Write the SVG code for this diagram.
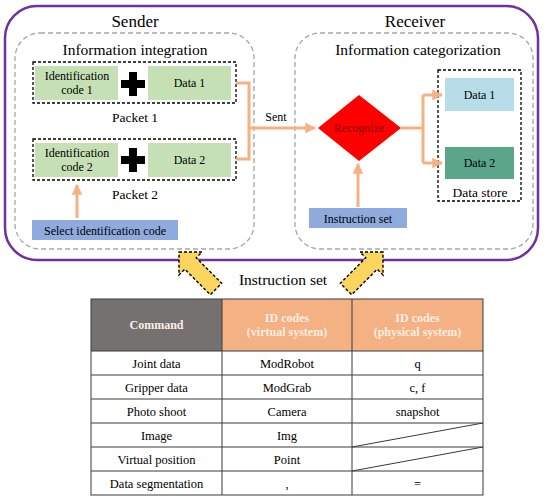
<svg xmlns="http://www.w3.org/2000/svg" width="550" height="502" viewBox="0 0 550 502" font-family="'Liberation Serif', 'Times New Roman', serif">
<defs>
<marker id="ah" viewBox="0 0 10 10" refX="9" refY="5" markerWidth="3.6" markerHeight="3.6" orient="auto" markerUnits="strokeWidth">
<path d="M0,0 L10,5 L0,10 z" fill="#f4b183"/>
</marker>
<style>
text{fill:#000;text-anchor:middle}
.t12{font-size:12px}
.t13{font-size:12.5px}
.green{fill:#c5e0b4}
.blue{fill:#8faadc}
.dashbk{fill:none;stroke:#000;stroke-width:1.3;stroke-dasharray:3,2}
.dashgr{fill:none;stroke:#a6a6a6;stroke-width:1.3;stroke-dasharray:5,3}
.conn{fill:none;stroke:#f4b183;stroke-width:3}
.yarrow{fill:#fbd55e;stroke:#000;stroke-width:1.4;stroke-dasharray:3,2}
.hdr{font-size:12px;font-weight:bold;fill:#fdeee3}
.grid{stroke:#3a3a3a;stroke-width:1;fill:none}
</style>
</defs>
<rect width="550" height="502" fill="#fff"/>

<g id="frame">
<rect x="5" y="6" width="533" height="254" rx="32" ry="32" fill="none" stroke="#7030a0" stroke-width="2.5"/>
<text x="135" y="27" font-size="17">Sender</text>
<text x="415" y="27" font-size="17">Receiver</text>
</g>

<g id="sender-panel">
<rect x="15" y="33" width="239" height="216" rx="25" class="dashgr"/>
<text x="135" y="55" font-size="15.5">Information integration</text>
</g>

<g id="receiver-panel">
<rect x="295" y="33" width="238" height="216" rx="25" class="dashgr"/>
<text x="418" y="55" font-size="15.5">Information categorization</text>
</g>

<g id="packet1">
<rect x="33" y="62" width="203" height="41" class="dashbk"/>
<rect x="35" y="66" width="83" height="34" class="green"/>
<text x="77" y="80" class="t12">Identification</text>
<text x="77" y="94" class="t12">code 1</text>
<path d="M129,72 h8 v8 h8 v8 h-8 v8 h-8 v-8 h-8 v-8 h8 z" fill="#000"/>
<rect x="148" y="66" width="83" height="34" class="green"/>
<text x="189.5" y="87" class="t12">Data 1</text>
<text x="135" y="122" font-size="13.5">Packet 1</text>
</g>

<g id="packet2">
<rect x="33" y="139" width="203" height="41" class="dashbk"/>
<rect x="35" y="143" width="83" height="34" class="green"/>
<text x="77" y="157" class="t12">Identification</text>
<text x="77" y="171" class="t12">code 2</text>
<path d="M129,148 h8 v8 h8 v8 h-8 v8 h-8 v-8 h-8 v-8 h8 z" fill="#000"/>
<rect x="148" y="143" width="83" height="34" class="green"/>
<text x="189.5" y="164" class="t12">Data 2</text>
<text x="135" y="199" font-size="13.5">Packet 2</text>
</g>

<g id="select-code">
<rect x="32" y="220" width="146" height="20" class="blue"/>
<text x="105" y="234.5" class="t12">Select identification code</text>
</g>

<g id="recognize">
<polygon points="318,128 359,95 401,128 359,161" fill="#ff0000"/>
<text x="359" y="132" class="t12" style="fill:#8c0000">Recognize</text>
</g>

<g id="instruction-box">
<rect x="309" y="208" width="98" height="20" class="blue"/>
<text x="358" y="222.5" class="t12">Instruction set</text>
</g>

<g id="data-store">
<rect x="438" y="70" width="83" height="131" class="dashbk"/>
<rect x="445" y="78" width="69" height="33" fill="#b7dee8"/>
<text x="479.5" y="99" class="t12">Data 1</text>
<rect x="445" y="147" width="69" height="32" fill="#5ba68b"/>
<text x="479.5" y="167" class="t12">Data 2</text>
<text x="480" y="197" font-size="13.5">Data store</text>
</g>

<g id="connectors">
<path d="M236,83 H249 V159 H236" class="conn"/>
<path d="M249,128 H315" class="conn" marker-end="url(#ah)"/>
<text x="276" y="121" class="t12">Sent</text>
<path d="M77,218 V185" class="conn" marker-end="url(#ah)"/>
<path d="M358,207 V164" class="conn" marker-end="url(#ah)"/>
<path d="M401,128 H423" class="conn"/>
<path d="M423,95 V163" class="conn"/>
<path d="M423,95 H442" class="conn" marker-end="url(#ah)"/>
<path d="M423,163 H442" class="conn" marker-end="url(#ah)"/>
</g>

<g id="instruction-arrows">
<polygon class="yarrow" points="179,252 202,252 196.2,257.8 221.7,283.3 210.3,294.7 184.8,269.2 179,275"/>
<polygon class="yarrow" points="383,252 360,252 365.8,257.8 340.3,283.3 351.7,294.7 377.2,269.2 383,275"/>
<text x="283" y="285" font-size="15.5">Instruction set</text>
</g>

<g id="table">
<rect x="91" y="299" width="131" height="52" fill="#767171"/>
<rect x="222" y="299" width="261" height="52" fill="#f4b183"/>
<rect x="91" y="299" width="392" height="196" class="grid"/>
<path class="grid" d="M222,299 V495 M352,299 V495 M91,351 H483 M91,375 H483 M91,399 H483 M91,423 H483 M91,447 H483 M91,471 H483"/>
<path class="grid" d="M352,447 L483,423 M352,471 L483,447"/>
<text x="156.5" y="329" class="hdr">Command</text>
<text x="287" y="322" class="hdr">ID codes</text>
<text x="287" y="336" class="hdr">(virtual system)</text>
<text x="417.5" y="322" class="hdr">ID codes</text>
<text x="417.5" y="336" class="hdr">(physical system)</text>
<text x="156.5" y="367.5" class="t13">Joint data</text>
<text x="287" y="367.5" class="t13">ModRobot</text>
<text x="417.5" y="367.5" class="t13">q</text>
<text x="156.5" y="391.5" class="t13">Gripper data</text>
<text x="287" y="391.5" class="t13">ModGrab</text>
<text x="417.5" y="391.5" class="t13">c, f</text>
<text x="156.5" y="415.5" class="t13">Photo shoot</text>
<text x="287" y="415.5" class="t13">Camera</text>
<text x="417.5" y="415.5" class="t13">snapshot</text>
<text x="156.5" y="439.5" class="t13">Image</text>
<text x="287" y="439.5" class="t13">Img</text>
<text x="156.5" y="463.5" class="t13">Virtual position</text>
<text x="287" y="463.5" class="t13">Point</text>
<text x="156.5" y="487.5" class="t13">Data segmentation</text>
<text x="287" y="487.5" class="t13">,</text>
<text x="417.5" y="487.5" class="t13">=</text>
</g>
</svg>
